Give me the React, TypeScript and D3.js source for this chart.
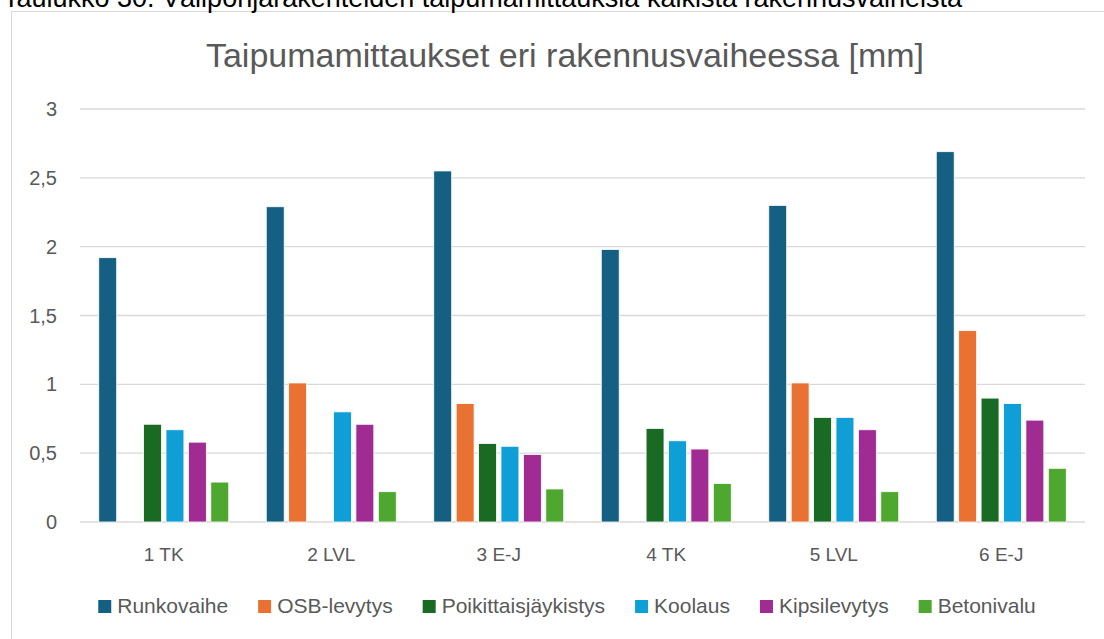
import React, { useEffect, useRef } from "react";
import * as d3 from "d3";

const caption = "Taulukko 30. Välipohjarakenteiden taipumamittauksia kaikista rakennusvaiheista";
const title = "Taipumamittaukset eri rakennusvaiheessa [mm]";
const categories = ["1 TK", "2 LVL", "3 E-J", "4 TK", "5 LVL", "6 E-J"];
const seriesNames = ["Runkovaihe", "OSB-levytys", "Poikittaisjäykistys", "Koolaus", "Kipsilevytys", "Betonivalu"];
const seriesColors = ["#156082", "#E97132", "#196B24", "#0F9ED5", "#A02B93", "#4EA72E"];
const runkovaihe = [1.92, 2.29, 2.55, 1.98, 2.3, 2.69];
const osbLevytys = [null, 1.01, 0.86, null, 1.01, 1.39];
const poikittaisjaykistys = [0.71, null, 0.57, 0.68, 0.76, 0.9];
const koolaus = [0.67, 0.8, 0.55, 0.59, 0.76, 0.86];
const kipsilevytys = [0.58, 0.71, 0.49, 0.53, 0.67, 0.74];
const betonivalu = [0.29, 0.22, 0.24, 0.28, 0.22, 0.39];
const yTicks = [0, 0.5, 1, 1.5, 2, 2.5, 3];

const seriesValues: (number | null)[][] = [runkovaihe, osbLevytys, poikittaisjaykistys, koolaus, kipsilevytys, betonivalu];

const W = 1104;
const H = 639;
const TEXT = "#595959";
const FONT = "'Liberation Sans', Arial, sans-serif";

export default function App() {
  const ref = useRef<SVGSVGElement | null>(null);

  useEffect(() => {
    const svg = d3.select(ref.current);
    svg.selectAll("*").remove();

    const plot = { left: 80, right: 1085, top: 109, bottom: 522 };

    // chart border
    svg.append("rect")
      .attr("x", 11.5).attr("y", 11.5)
      .attr("width", 1110).attr("height", 650)
      .attr("fill", "#fff").attr("stroke", "#d9d9d9").attr("stroke-width", 1);

    // caption (cut at top in the original as well)
    svg.append("text")
      .attr("x", 3).attr("y", 7)
      .attr("font-family", FONT).attr("font-size", 27)
      .attr("fill", "#000")
      .text(caption);

    // title
    svg.append("text")
      .attr("x", 565).attr("y", 67)
      .attr("text-anchor", "middle")
      .attr("font-family", FONT).attr("font-size", 34)
      .attr("fill", TEXT)
      .text(title);

    const y = d3.scaleLinear().domain([0, 3]).range([plot.bottom, plot.top]);
    const x0 = d3.scaleBand<string>().domain(categories)
      .range([plot.left, plot.right]).paddingInner(0.224).paddingOuter(0.112);
    const x1 = d3.scaleBand<string>().domain(seriesNames)
      .range([0, x0.bandwidth()]).paddingInner(0.2).paddingOuter(0);

    const fmt = d3.formatLocale({ decimal: ",", thousands: " ", grouping: [3], currency: ["", "€"] }).format("~g");

    // gridlines
    svg.append("g").selectAll("line").data(yTicks).join("line")
      .attr("x1", plot.left).attr("x2", plot.right)
      .attr("y1", (d) => y(d)).attr("y2", (d) => y(d))
      .attr("stroke", "#d9d9d9").attr("stroke-width", 1.3);

    // y labels
    svg.append("g").selectAll("text").data(yTicks).join("text")
      .attr("x", 57).attr("y", (d) => y(d) + 7)
      .attr("text-anchor", "end")
      .attr("font-family", FONT).attr("font-size", 20)
      .attr("fill", TEXT)
      .text((d) => fmt(d));

    // bars
    const groups = svg.append("g").selectAll("g").data(categories).join("g")
      .attr("transform", (c) => `translate(${x0(c)},0)`);
    groups.each(function (c, ci) {
      const g = d3.select(this);
      seriesNames.forEach((s, si) => {
        const v = seriesValues[si][ci];
        if (v == null) return;
        g.append("rect")
          .attr("x", x1(s)!)
          .attr("y", y(v))
          .attr("width", x1.bandwidth())
          .attr("height", y(0) - y(v))
          .attr("fill", seriesColors[si])
          .attr("stroke", "#ffffff")
          .attr("stroke-width", 0.8);
      });
    });

    // x labels
    svg.append("g").selectAll("text").data(categories).join("text")
      .attr("x", (c) => x0(c)! + x0.bandwidth() / 2)
      .attr("y", 561)
      .attr("text-anchor", "middle")
      .attr("font-family", FONT).attr("font-size", 19)
      .attr("fill", TEXT)
      .text((c) => c);

    // legend
    const lg = svg.append("g");
    const items = lg.selectAll("g").data(seriesNames).join("g");
    items.append("rect")
      .attr("x", 0).attr("y", -13)
      .attr("width", 13).attr("height", 13)
      .attr("fill", (_, i) => seriesColors[i]);
    items.append("text")
      .attr("x", 19).attr("y", 0)
      .attr("font-family", FONT).attr("font-size", 21)
      .attr("fill", TEXT)
      .text((d) => d);
    const widths: number[] = [];
    items.each(function () {
      const t = d3.select(this).select("text").node() as SVGTextElement;
      widths.push(19 + t.getComputedTextLength());
    });
    const gap = 30;
    const total = d3.sum(widths) + gap * (widths.length - 1);
    let cx = 567 - total / 2;
    items.attr("transform", (_, i) => {
      const tx = cx;
      cx += widths[i] + gap;
      return `translate(${tx},613)`;
    });
  }, []);

  return (
    <svg
      ref={ref}
      width={W}
      height={H}
      style={{ position: "absolute", left: 0, top: 0, background: "#fff" }}
    />
  );
}
